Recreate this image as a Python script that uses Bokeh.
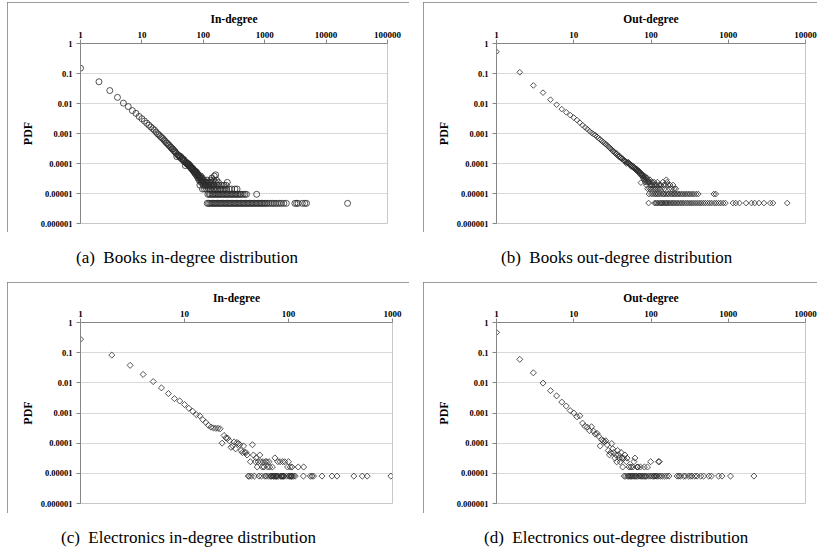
from bokeh.plotting import figure
from bokeh.models import FixedTicker, CustomJSTickFormatter, Range1d, Div, Spacer
from bokeh.layouts import row, column
from bokeh.embed import file_html
from bokeh.resources import INLINE
import math

# ---------------- tick data ----------------
Y_TICKS = [1e-6, 1e-5, 1e-4, 1e-3, 1e-2, 1e-1, 1]
Y_TICK_LABELS = ["0.000001", "0.00001", "0.0001", "0.001", "0.01", "0.1", "1"]
X_TICKS = [1, 10, 100, 1000, 10000, 100000]
X_TICK_LABELS = ["1", "10", "100", "1000", "10000", "100000"]

# ---------------- (a) Books in-degree ----------------
A_X = [1, 2, 3, 4, 5, 6, 7, 8, 9, 10, 11, 12, 13, 14, 15, 16, 17, 18, 19, 20,
       21, 22, 23, 24, 25, 26, 27, 28, 29, 30, 31, 32, 33, 34, 35, 36, 37, 38, 39, 40,
       41, 42, 43, 44, 45, 46, 47, 48, 49, 50, 51, 52, 53, 54, 55, 56, 57, 58, 59, 60,
       61, 62, 63, 64, 65, 66, 67, 68, 69, 70, 71, 72, 73, 74, 75, 76, 77, 78, 79, 80,
       81, 82, 83, 84,
       85, 86, 87, 88, 89, 90, 91, 92, 93, 94, 95, 96, 97, 98, 99, 100,
       102, 104, 105, 106, 108, 110, 112, 113, 115, 117, 120, 123, 124, 127, 129,
       132, 133, 134, 137, 138, 142, 143, 146, 147, 150, 151, 153, 157, 159, 163,
       164, 168, 172, 176, 180, 184, 194, 198, 208, 218, 224, 235, 240, 246, 262,
       290, 327, 355]
A_Y = [0.15, 0.053, 0.027, 0.016, 0.0103, 0.0079, 0.0058, 0.0047, 0.0037, 0.0031,
       0.0026, 0.0022, 0.0019, 0.00165, 0.00145, 0.0013, 0.00112, 0.00098, 0.0009, 0.0008,
       0.00073, 0.00067, 0.0006, 0.00055, 0.00049, 0.00047, 0.00042, 0.0004, 0.00036, 0.00034,
       0.00031, 0.0003, 0.00027, 0.00026, 0.00024, 0.00022, 0.00017, 0.0002, 0.00019, 0.00018,
       0.000175, 0.00016, 0.00017, 0.000145, 0.00015, 0.000135, 0.00014, 0.00012, 0.00013, 0.000115,
       0.000085, 0.000105, 0.00011, 0.0001, 0.000095, 0.000094, 0.000099, 0.000085, 0.00009, 0.00008,
       0.000085, 0.000075, 0.00007, 0.000075, 0.000066, 0.00007, 0.000061, 0.000066, 0.000056, 0.000061,
       0.000052, 0.000056, 0.000047, 0.000056, 0.000052, 0.000042, 0.000052, 0.000047, 0.000038, 0.000047,
       0.000042, 0.000033, 0.000042, 0.000038,
       0.000028, 0.000038, 0.000033, 0.000019, 0.000033, 0.000028, 0.000038, 0.0000235, 0.000033, 0.000028,
       0.0000235, 0.000033, 0.0000141, 0.000028, 0.0000235, 0.0000188,
       0.000028, 0.0000235, 0.0000141, 0.0000188, 0.0000235, 0.0000188, 0.0000235, 0.0000141, 0.000028,
       0.0000188, 0.0000235, 0.0000141, 0.0000188, 0.0000235, 0.0000141,
       0.000028, 0.0000188, 0.0000235, 0.0000141, 0.000033, 0.0000235, 0.0000188, 0.0000141, 0.000028,
       0.0000188, 0.000038, 0.0000141, 0.0000235, 0.000042, 0.0000141,
       0.000028, 0.0000188, 0.0000141, 0.0000235, 0.0000188, 0.0000141, 0.0000141, 0.0000188, 0.0000141,
       0.0000188, 0.0000141, 0.0000188, 0.0000141, 0.0000235, 0.0000141,
       0.0000141, 0.0000141, 0.0000141]
A_COUNT2_X = [119, 126, 131, 139, 144, 152, 158, 166, 174, 182, 191, 200, 211, 221, 232,
              243, 255, 268, 281, 295, 310, 325, 340, 358, 375, 395, 415, 445, 475, 505, 740]
A_COUNT2_Y = 0.0000094
A_COUNT1_X = [116, 122, 128, 135, 141, 148, 155, 162, 170, 178, 187, 196, 205, 215, 226,
              237, 248, 260, 273, 286, 300, 315, 330, 346, 363, 380, 400, 420, 440, 462,
              485, 510, 535, 562, 590, 620, 652, 685, 720, 757, 795, 835, 880, 925, 975,
              1030, 1090, 1160, 1240, 1330, 1420, 1520, 1630, 1750, 1880, 2050, 2250,
              3100, 3300, 3500, 4100, 4500, 4800, 22400]
A_COUNT1_Y = 0.0000047

# ---------------- (b) Books out-degree ----------------
B_X = [1, 2, 3, 4, 5, 6, 7, 8, 9, 10, 11, 12, 13, 14, 15, 16, 17, 18, 19, 20,
       21, 22, 23, 24, 25, 26, 27, 28, 29, 30, 31, 32, 33, 34, 35, 36, 37, 38, 39, 40,
       41, 42, 43, 44, 45, 46, 47, 48, 49, 50, 51, 52, 53, 54, 55, 56, 57, 58, 59, 60,
       61, 62, 63, 64, 65, 66, 67, 68, 69, 70, 71, 72, 73, 74, 75, 76, 77, 78, 79, 80,
       81, 82, 83, 84, 85, 86, 87, 88, 89, 90, 91, 92, 95, 96, 97, 98, 99, 100,
       102, 104, 106, 108, 110, 112, 114, 117, 119, 121, 124, 127, 130, 134, 138,
       142, 146, 150, 154, 158, 162, 167, 172, 177, 185, 193, 200, 210]
B_Y = [0.53, 0.11, 0.04, 0.023, 0.0134, 0.0091, 0.0065, 0.0051, 0.0041, 0.0034,
       0.0028, 0.0023, 0.0019, 0.0016, 0.0014, 0.0012, 0.00105, 0.00095, 0.00088, 0.00078,
       0.0007, 0.00063, 0.00057, 0.00052, 0.00048, 0.00044, 0.0004, 0.00037, 0.00034, 0.00031,
       0.00029, 0.00026, 0.00025, 0.00023, 0.00021, 0.00022, 0.00019, 0.00017, 0.00018, 0.00016,
       0.000155, 0.00014, 0.000145, 0.00013, 0.000125, 0.00012, 0.000115, 0.0001, 0.00011, 0.000105,
       0.00011, 0.0001, 0.000094, 0.000085, 0.00009, 0.00008, 0.000085, 0.000075, 0.00008, 0.00007,
       0.000075, 0.000066, 0.00007, 0.000061, 0.000066, 0.000056, 0.000061, 0.000056, 0.000052, 0.000056,
       0.000047, 0.000052, 0.000042, 0.000023, 0.000047, 0.000042, 0.000038, 0.000042, 0.000033, 0.000038,
       0.0000336, 0.0000288, 0.0000384, 0.000024, 0.0000336, 0.0000288, 0.0000192, 0.000024, 0.0000336,
       0.0000144, 0.0000288, 0.000024, 0.000024, 0.0000144, 0.0000288, 0.0000192, 0.000024, 0.0000144,
       0.0000192, 0.000024, 0.0000144, 0.0000192, 0.000024, 0.0000144, 0.0000192, 0.0000144, 0.0000192,
       0.000024, 0.0000144, 0.0000192, 0.0000144, 0.0000192, 0.0000144,
       0.000024, 0.0000192, 0.0000144, 0.0000192, 0.0000288, 0.000024, 0.0000192, 0.0000144, 0.0000192,
       0.0000144, 0.0000192, 0.0000144, 0.0000144]
B_COUNT2_X = [94, 101, 107, 113, 118, 123, 129, 136, 143, 148, 156, 164, 170, 180, 188,
              197, 205, 215, 225, 236, 248, 260, 275, 290, 305, 320, 340, 360, 385, 410,
              650, 690]
B_COUNT2_Y = 0.0000096
B_COUNT1_X = [93, 111, 115, 120, 125, 131, 135, 140, 145, 151, 157, 161, 168, 175, 183,
              191, 199, 208, 218, 228, 240, 252, 265, 280, 295, 312, 330, 350, 372, 395,
              420, 445, 475, 505, 540, 575, 610, 660, 700, 750, 800, 860, 920, 1150, 1250,
              1400, 1700, 2000, 2200, 2500, 2900, 3500, 3800, 5800]
B_COUNT1_Y = 0.0000048

# ---------------- (c) Electronics in-degree ----------------
C_X = [1, 2, 3, 4, 5, 6, 7, 8, 9, 10, 11, 12, 13, 14, 15, 16, 17, 18, 19, 20,
       21, 22, 23, 24, 25, 26, 27, 28, 29, 30, 31, 32, 33, 34, 35, 36, 37, 38, 39, 40,
       43, 45, 46, 48, 49, 50, 51, 53, 54, 56, 57, 58, 60, 62, 63, 65, 66, 70, 74, 79,
       83, 88, 92, 98, 100, 104, 108, 124, 140]
C_Y = [0.28, 0.083, 0.038, 0.019, 0.011, 0.0068, 0.0044, 0.003, 0.0025, 0.0019,
       0.00144, 0.00114, 0.00088, 0.00081, 0.0006, 0.00049, 0.00039, 0.00034, 0.00032, 0.00031,
       0.00031, 0.0003, 0.0001, 0.00018, 0.00015, 0.000145, 0.00012, 0.000073, 0.000081, 0.00011,
       0.000065, 0.000105, 0.000097, 0.000089, 0.000057, 0.000049, 0.000081, 0.000049, 0.000049, 0.0000405,
       0.0000243, 0.000089, 0.0000405, 0.0000243, 0.0000324, 0.0000162, 0.0000243, 0.0000405, 0.0000243,
       0.0000162, 0.0000243, 0.0000162, 0.0000243, 0.0000243, 0.0000162, 0.0000243, 0.0000162, 0.0000162,
       0.0000324, 0.0000243, 0.0000243, 0.0000243, 0.0000243, 0.0000162, 0.0000243, 0.0000162, 0.0000162,
       0.0000162, 0.0000162]
C_COUNT1_X = [41, 42, 44, 47, 52, 55, 59, 61, 64, 67, 68, 69, 71, 72, 73, 75, 76, 77, 78, 80,
              84, 85, 86, 87, 89, 90, 91, 96, 101, 102, 105, 106, 107, 109, 112, 116, 139,
              162, 168, 174, 210, 262, 293, 425, 512, 571, 964]
C_COUNT1_Y = 0.0000081

# ---------------- (d) Electronics out-degree ----------------
D_X = [1, 2, 3, 4, 5, 6, 7, 8, 9, 10, 11, 12, 13, 14, 15, 16, 17, 18, 19, 20,
       21, 22, 23, 24, 25, 26, 27, 28, 29, 30, 31, 32, 33, 34, 35, 36, 37, 38, 39, 40,
       41, 42, 43, 44, 46, 48, 49, 52, 55, 58, 60, 62, 66, 68, 73, 82, 90, 99, 125, 128]
D_Y = [0.47, 0.06, 0.0215, 0.0098, 0.0055, 0.0037, 0.0023, 0.0017, 0.0012, 0.001,
       0.00075, 0.00081, 0.00046, 0.00036, 0.00034, 0.00026, 0.00035, 0.00025, 0.0002, 0.00021,
       0.00017, 0.000081, 0.00013, 0.00012, 0.00011, 0.00012, 0.000089, 0.000057, 0.000041, 0.000049,
       0.000097, 0.000065, 0.000049, 0.000032, 0.000041, 0.000024, 0.000057, 0.000041, 0.000032, 0.000024,
       0.000049, 0.000032, 0.0000162, 0.000032, 0.0000405, 0.0000243, 0.000032, 0.0000162, 0.0000162,
       0.0000162, 0.0000243, 0.000032, 0.0000162, 0.0000162, 0.0000162, 0.0000162, 0.0000162, 0.0000243,
       0.0000243, 0.0000243]
D_COUNT1_X = [45, 47, 50, 51, 53, 54, 56, 57, 59, 61, 63, 64, 67, 70, 72, 75, 77, 80, 83, 85,
              88, 94, 100, 105, 109, 112, 116, 120, 127, 133, 140, 150, 160, 171, 218, 230,
              241, 265, 279, 307, 325, 340, 370, 395, 440, 480, 560, 605, 750, 830, 1070, 2150]
D_COUNT1_Y = 0.0000081

CAPTIONS = ["(a)\u00a0\u00a0Books in-degree distribution",
            "(b)\u00a0\u00a0Books out-degree distribution",
            "(c)\u00a0\u00a0Electronics in-degree distribution",
            "(d)\u00a0\u00a0Electronics out-degree distribution"]

SERIF = "Liberation Serif"
FMT_CODE = """
let best = 0, bd = 1e9;
for (let i = 0; i < vals.length; i++) {
  const d = Math.abs(Math.log10(vals[i]) - Math.log10(tick));
  if (d < bd) { bd = d; best = i; }
}
return labs[best];
"""
BOX_STYLE = {"outline": "1px solid #7a7a7a", "outline-offset": "-1px"}


def panel(title, n_xt, xs_list, ys_list, marker, size, width, height, fl, fr, ft, fb):
    xt = X_TICKS[:n_xt]
    xl = X_TICK_LABELS[:n_xt]
    p = figure(width=width, height=height, x_axis_type="log", y_axis_type="log",
               x_axis_location="above", x_range=Range1d(xt[0], xt[-1]),
               y_range=Range1d(Y_TICKS[0], Y_TICKS[-1]),
               output_backend="svg", toolbar_location=None,
               min_border_left=fl, min_border_right=fr, min_border_top=ft, min_border_bottom=fb,
               styles=BOX_STYLE)
    p.background_fill_color = "white"
    p.border_fill_color = "white"
    p.outline_line_color = "#c8c8c8"
    p.xgrid.visible = False
    p.ygrid.grid_line_color = "#d9d9d9"
    p.ygrid.grid_line_width = 1

    p.xaxis.ticker = FixedTicker(ticks=xt, minor_ticks=[])
    p.yaxis.ticker = FixedTicker(ticks=Y_TICKS, minor_ticks=[])
    p.xaxis.formatter = CustomJSTickFormatter(args=dict(vals=xt, labs=xl), code=FMT_CODE)
    p.yaxis.formatter = CustomJSTickFormatter(args=dict(vals=Y_TICKS, labs=Y_TICK_LABELS), code=FMT_CODE)
    p.xaxis.axis_label = title
    p.yaxis.axis_label = "PDF"
    for ax in (p.xaxis[0], p.yaxis[0]):
        ax.axis_line_color = "#868686"
        ax.major_tick_line_color = "#868686"
        ax.major_tick_out = 4
        ax.major_tick_in = 0
        ax.minor_tick_out = 0
        ax.minor_tick_in = 0
        ax.major_label_text_font = SERIF
        ax.major_label_text_font_style = "bold"
        ax.major_label_text_color = "black"
        ax.axis_label_text_font = SERIF
        ax.axis_label_text_font_style = "bold"
        ax.axis_label_text_color = "black"
    p.xaxis.major_label_text_font_size = "9px"
    p.yaxis.major_label_text_font_size = "8.5px"
    p.xaxis.axis_label_text_font_size = "11.5px"
    p.yaxis.axis_label_text_font_size = "12px"
    p.xaxis.major_label_standoff = 2
    p.xaxis.axis_label_standoff = 4
    p.yaxis.major_label_standoff = 4
    p.yaxis.axis_label_standoff = 3

    for xs, ys in zip(xs_list, ys_list):
        if marker == "circle":
            p.scatter(xs, ys, marker="circle", size=size, fill_color=None,
                      line_color="#2a2a2a", line_width=0.8)
        else:
            p.scatter(xs, ys, marker="square", angle=math.pi / 4, size=size, fill_color=None,
                      line_color="#2a2a2a", line_width=0.8)
    return p


pA = panel("In-degree", 6,
           [A_X, A_COUNT2_X, A_COUNT1_X],
           [A_Y, [A_COUNT2_Y] * len(A_COUNT2_X), [A_COUNT1_Y] * len(A_COUNT1_X)],
           "circle", 6, 402, 230, 73, 22, 41, 9)
pB = panel("Out-degree", 5,
           [B_X, B_COUNT2_X, B_COUNT1_X],
           [B_Y, [B_COUNT2_Y] * len(B_COUNT2_X), [B_COUNT1_Y] * len(B_COUNT1_X)],
           "diamond", 4, 394, 230, 73, 12, 41, 9)
pC = panel("In-degree", 4,
           [C_X, C_COUNT1_X],
           [C_Y, [C_COUNT1_Y] * len(C_COUNT1_X)],
           "diamond", 4.3, 402, 231, 73, 17, 40, 10)
pD = panel("Out-degree", 5,
           [D_X, D_COUNT1_X],
           [D_Y, [D_COUNT1_Y] * len(D_COUNT1_X)],
           "diamond", 4.3, 394, 231, 73, 12, 40, 10)


def caption(text, width, height, left, top):
    html = ('<div style="position:absolute; left:%dpx; top:%dpx; white-space:nowrap; '
            'font-family:\'Liberation Serif\', serif; font-size:17px; color:#000;">%s</div>'
            % (left, top, text))
    return Div(text=html, width=width, height=height, margin=0)


def gap(w=0, h=0):
    return Spacer(width=w, height=h, margin=0)


top_row = row(gap(w=7, h=230), pA, gap(w=14, h=230), pB, spacing=0)
cap1 = row(caption(CAPTIONS[0], 415, 50, 76, 14), caption(CAPTIONS[1], 402, 50, 86, 14), spacing=0)
bot_row = row(gap(w=7, h=231), pC, gap(w=14, h=231), pD, spacing=0)
cap2 = row(caption(CAPTIONS[2], 415, 37, 61, 13), caption(CAPTIONS[3], 402, 37, 69, 13), spacing=0)

layout = column(gap(w=817, h=2), top_row, cap1, bot_row, cap2, spacing=0)

open("out.html", "w").write(file_html(layout, INLINE))
